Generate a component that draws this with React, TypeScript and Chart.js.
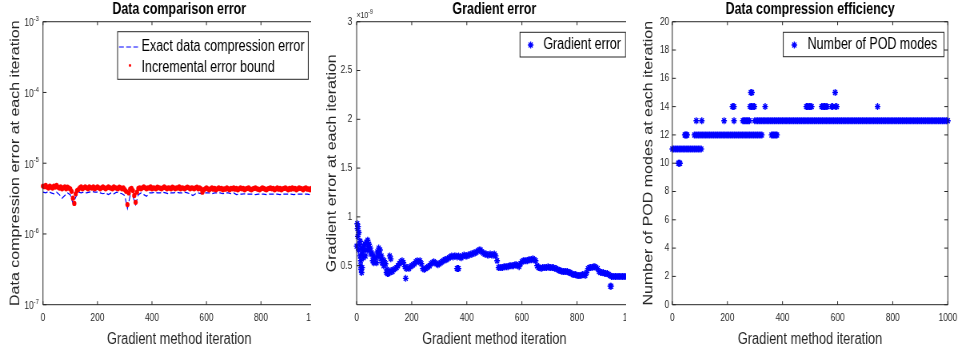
import React, { useEffect, useRef } from 'react';
import { Chart, registerables } from 'chart.js';

Chart.register(...registerables);

// ---------------- data ----------------
const X_TICKS = [0, 200, 400, 600, 800, 1000];

// Panel 1: data compression error (values in units of 1e-6)
const BOUND_STEP = 5; // iteration spacing of the bound samples
const BOUND_E6 = [
  4.75, 4.65, 4.85, 4.6, 4.45, 4.75, 4.6, 4.45, 4.75, 4.6, 4.85, 4.6, 4.45, 4.65, 4.35, 4.5, 4.65, 4.35, 4.6, 4.45, 4.35,
  4.0, 3.2, 2.7, 3.7, 4.1, 4.25, 4.5,
  4.65, 4.35, 4.5, 4.65, 4.5, 4.35, 4.65, 4.5, 4.45, 4.65, 4.35, 4.5, 4.65, 4.5, 4.35, 4.5, 4.65, 4.5, 4.35, 4.5, 4.65, 4.5, 4.45, 4.35, 4.65, 4.5, 4.45, 4.35, 4.6, 4.5, 4.35, 4.5, 4.25,
  4.0, 2.6, 3.8, 4.3, 4.4, 4.1, 3.5, 2.8, 3.9, 4.4,
  4.5, 4.35, 4.5, 4.65, 4.5, 4.35, 4.5, 4.45, 4.65, 4.35,
  4.5, 4.45, 4.35, 4.6, 4.5, 4.45, 4.35, 4.5, 4.65, 4.5,
  4.35, 4.5, 4.45, 4.35, 4.6, 4.5, 4.35, 4.5, 4.45, 4.65,
  4.35, 4.5, 4.45, 4.35, 4.5, 4.6, 4.5, 4.35, 4.5, 4.45,
  4.35, 4.5, 4.6, 4.35, 4.5, 4.35,
  3.9, 4.2,
  4.35, 4.5, 4.35, 4.2, 4.35, 4.5, 4.3, 4.4, 4.2, 4.35,
  4.5, 4.35, 4.4, 4.2, 4.35, 4.3, 4.5, 4.35, 4.2, 4.4,
  4.35, 4.5, 4.3, 4.4, 4.2, 4.35, 4.5, 4.35, 4.4, 4.2,
  4.35, 4.4, 4.5, 4.3, 4.2, 4.35, 4.4, 4.5, 4.35, 4.3,
  4.2, 4.35, 4.5, 4.4, 4.3, 4.2, 4.35, 4.4, 4.5, 4.35,
  4.4, 4.2, 4.35, 4.5, 4.3, 4.4, 4.2, 4.35, 4.4, 4.5,
  4.35, 4.2, 4.4, 4.3, 4.5, 4.35, 4.4, 4.2, 4.35, 4.5,
  4.4, 4.35, 4.2, 4.4, 4.5, 4.3, 4.35, 4.2, 4.4, 4.35,
  4.5, 4.35,
];
const EXACT_STEP = 10;
const EXACT_E6 = [
  3.9, 3.8, 4.0, 3.8, 3.7, 3.9, 3.6, 3.2, 3.5, 3.8,
  3.6, 2.7, 3.3, 3.9, 3.8, 3.9, 3.8, 3.9, 4.0, 3.9,
  3.9, 3.8, 3.7, 3.8, 3.6, 3.8, 3.7, 3.9, 3.8, 3.7,
  3.5, 2.3, 3.5, 3.4, 2.6, 3.6, 3.8, 3.6, 3.4, 3.8,
  3.8, 3.9, 3.8, 3.8, 3.9, 3.8, 3.7, 3.8, 3.8, 3.9,
  3.8, 3.8, 3.9, 3.8, 3.7, 3.5, 3.7, 3.8, 3.7, 3.8,
  3.8, 3.8, 3.7, 3.8, 3.8, 3.8, 3.7, 3.8, 3.8, 3.7,
  3.8, 3.6, 3.65, 3.65, 3.7, 3.65, 3.65, 3.65, 3.6, 3.65,
  3.65, 3.65, 3.6, 3.65, 3.65, 3.65, 3.65, 3.6, 3.65, 3.65,
  3.65, 3.65, 3.6, 3.65, 3.65, 3.65, 3.65, 3.65, 3.6, 3.65,
  3.65,
];
const LOG_TICKS = [1e-7, 1e-6, 1e-5, 1e-4, 1e-3];

// Panel 2: gradient error (values in units of 1e-9)
const GRAD_STEP = 5;
const GRAD_E9 = [
  0.70, 0.90, 0.72, 0.55, 0.62, 0.70, 0.72, 0.74, 0.76, 0.72,
  0.68, 0.63, 0.60, 0.57, 0.58, 0.64, 0.68, 0.66, 0.60, 0.56,
  0.55, 0.52, 0.46, 0.42, 0.43, 0.45, 0.44, 0.46, 0.47, 0.48,
  0.50, 0.52, 0.54, 0.55, 0.53, 0.49, 0.47, 0.48, 0.47, 0.49,
  0.50, 0.51, 0.52, 0.54, 0.55, 0.54, 0.55, 0.52, 0.47, 0.46,
  0.47, 0.48, 0.49, 0.50, 0.52, 0.53, 0.54, 0.53, 0.52, 0.51,
  0.52, 0.53, 0.54, 0.55, 0.56, 0.56, 0.57, 0.58, 0.59, 0.60,
  0.59, 0.60, 0.60, 0.59, 0.60, 0.59, 0.58, 0.60, 0.61, 0.60,
  0.60, 0.61, 0.61, 0.62, 0.62, 0.63, 0.63, 0.64, 0.65, 0.66,
  0.66, 0.64, 0.63, 0.62, 0.62, 0.61, 0.61, 0.62, 0.61, 0.61,
  0.62, 0.60, 0.55, 0.48, 0.48, 0.48, 0.48, 0.49, 0.49, 0.49,
  0.49, 0.50, 0.50, 0.50, 0.50, 0.51, 0.51, 0.50, 0.49, 0.52,
  0.54, 0.55, 0.55, 0.55, 0.55, 0.56, 0.56, 0.56, 0.57, 0.56,
  0.55, 0.50, 0.48, 0.48, 0.47, 0.48, 0.48, 0.48, 0.48, 0.49,
  0.48, 0.48, 0.48, 0.48, 0.47, 0.47, 0.46, 0.45, 0.45, 0.44,
  0.44, 0.44, 0.44, 0.44, 0.43, 0.43, 0.42, 0.41, 0.41, 0.41,
  0.40, 0.40, 0.40, 0.40, 0.41, 0.41, 0.40, 0.43, 0.47, 0.48,
  0.48, 0.48, 0.49, 0.49, 0.48, 0.47, 0.44, 0.43, 0.43, 0.43,
  0.42, 0.42, 0.42, 0.41, 0.40, 0.39, 0.39, 0.39, 0.39, 0.39,
  0.39, 0.39, 0.39, 0.39, 0.39, 0.39, 0.39, 0.39, 0.39, 0.39,
  0.39,
];
const GRAD_EXTRA_ITER = [2, 3, 4, 7, 8, 12, 13, 14, 16, 17, 18, 20, 22, 24, 28, 32, 38, 42, 48, 52, 58, 62, 72, 78, 82, 88, 92, 98, 108, 112, 120, 124, 178, 364, 367, 370, 921, 924];
const GRAD_EXTRA_E9 = [0.93, 0.88, 0.80, 0.66, 0.84, 0.60, 0.75, 0.50, 0.46, 0.68, 0.43, 0.48, 0.65, 0.58, 0.66, 0.60, 0.66, 0.70, 0.66, 0.62, 0.55, 0.53, 0.53, 0.60, 0.62, 0.57, 0.53, 0.50, 0.43, 0.42, 0.60, 0.57, 0.37, 0.47, 0.47, 0.47, 0.29, 0.29];
const GRAD_TICKS = [0.5, 1, 1.5, 2, 2.5, 3];

// Panel 3: iterations at which each number of POD modes occurs
const POD_10 = [22, 25, 28];
const POD_11 = [0, 5, 10, 15, 20, 25, 30, 35, 40, 45, 50, 55, 60, 65, 70, 75, 80, 85, 90, 95, 100, 105];
const POD_12 = [45, 48, 51, 54, 80, 85, 90, 95, 100, 105, 110, 115, 120, 125, 130, 135, 140, 145, 150, 155, 160, 165, 170, 175, 180, 185, 190, 195, 200, 205, 210, 215, 220, 225, 230, 235, 240, 245, 250, 255, 260, 265, 270, 275, 280, 285, 290, 295, 300, 305, 310, 315, 320, 325, 360, 364, 368, 372, 376, 380];
const POD_13 = [87, 107, 188, 224, 256, 260, 264, 268, 272, 276, 280, 299,
  305, 310, 315, 320, 325, 330, 335, 340, 345, 350, 355, 360, 365, 370, 375, 380, 385, 390, 395, 400, 405, 410, 415, 420, 425, 430, 435, 440, 445, 450, 455, 460, 465, 470, 475, 480, 485, 490, 495, 500,
  505, 510, 515, 520, 525, 530, 535, 540, 545, 550, 555, 560, 565, 570, 575, 580, 585, 590, 595, 600, 605, 610, 615, 620, 625, 630, 635, 640, 645, 650, 655, 660, 665, 670, 675, 680, 685, 690, 695, 700,
  705, 710, 715, 720, 725, 730, 735, 740, 745, 750, 755, 760, 765, 770, 775, 780, 785, 790, 795, 800, 805, 810, 815, 820, 825, 830, 835, 840, 845, 850, 855, 860, 865, 870, 875, 880, 885, 890, 895, 900,
  905, 910, 915, 920, 925, 930, 935, 940, 945, 950, 955, 960, 965, 970, 975, 980, 985, 990, 995, 1000];
const POD_14 = [218, 221, 224, 282, 286, 290, 294, 298, 337, 486, 490, 494, 498, 502, 506, 542, 546, 550, 554, 558, 562, 578, 582, 592, 597, 745];
const POD_15 = [285, 289, 591];
const POD_TICKS = [0, 2, 4, 6, 8, 10, 12, 14, 16, 18, 20];

// ---------------- styling ----------------
const SX = 0.8; // horizontal compression of the original figure
const FONT = "'Liberation Sans', Arial, Helvetica, sans-serif";
const AX = '#262626';
const H = 354;
const TICK_FS = 10.5;

const boxPlugin = {
  id: 'matBox',
  afterDatasetsDraw(chart: any) {
    const { ctx, chartArea: a, scales } = chart;
    const xs = scales.x;
    const ys = scales.y;
    ctx.save();
    ctx.strokeStyle = AX;
    ctx.lineWidth = 1;
    ctx.beginPath();
    ctx.moveTo(a.left, a.top);
    ctx.lineTo(a.left, a.bottom);
    ctx.lineTo(a.right, a.bottom);
    ctx.lineTo(a.right, a.top);
    ctx.closePath();
    xs.ticks.forEach((t: any) => {
      const p = xs.getPixelForValue(t.value);
      ctx.moveTo(p, a.bottom);
      ctx.lineTo(p, a.bottom - 3.5);
      ctx.moveTo(p, a.top);
      ctx.lineTo(p, a.top + 3.5);
    });
    ys.ticks.forEach((t: any) => {
      const p = ys.getPixelForValue(t.value);
      ctx.moveTo(a.left, p);
      ctx.lineTo(a.left + 4.4, p);
      ctx.moveTo(a.right, p);
      ctx.lineTo(a.right - 4.4, p);
    });
    ctx.stroke();
    ctx.restore();
  },
};

// y tick labels (MATLAB style, with raised exponents for the log axis)
const yLabelPlugin = {
  id: 'matYLabels',
  afterDraw(chart: any, _args: any, o: any) {
    if (!o || !o.kind) return;
    const { ctx, chartArea: a, scales } = chart;
    const ys = scales.y;
    ctx.save();
    ctx.fillStyle = AX;
    ctx.textBaseline = 'middle';
    ctx.textAlign = 'right';
    const xr = a.left - o.pad;
    ys.ticks.forEach((t: any) => {
      const p = ys.getPixelForValue(t.value);
      if (o.kind === 'log') {
        const e = String(Math.round(Math.log10(t.value)));
        ctx.font = `7.5px ${FONT}`;
        const ew = ctx.measureText(e).width;
        ctx.fillText(e, xr, p - 3);
        ctx.font = `${TICK_FS}px ${FONT}`;
        ctx.fillText('10', xr - ew, p + 1.5);
      } else {
        ctx.font = `${TICK_FS}px ${FONT}`;
        ctx.fillText(String(t.value), xr, p);
      }
    });
    ctx.restore();
  },
};

const drawStar = (ctx: CanvasRenderingContext2D, x: number, y: number, r: number) => {
  const d = r * Math.SQRT1_2;
  ctx.moveTo(x - r, y);
  ctx.lineTo(x + r, y);
  ctx.moveTo(x, y - r);
  ctx.lineTo(x, y + r);
  ctx.moveTo(x - d, y - d);
  ctx.lineTo(x + d, y + d);
  ctx.moveTo(x - d, y + d);
  ctx.lineTo(x + d, y - d);
};

const legendPlugin = {
  id: 'matLegend',
  afterDraw(chart: any, _args: any, o: any) {
    if (!o || !o.box) return;
    const ctx: CanvasRenderingContext2D = chart.ctx;
    const [bx, by, bw, bh] = o.box;
    ctx.save();
    ctx.fillStyle = '#ffffff';
    ctx.fillRect(bx, by, bw, bh);
    ctx.strokeStyle = AX;
    ctx.lineWidth = 1;
    ctx.strokeRect(bx, by, bw, bh);
    ctx.font = `${o.fontSize}px ${FONT}`;
    ctx.textBaseline = 'middle';
    ctx.textAlign = 'left';
    o.rows.forEach((r: any) => {
      const ds = chart.data.datasets[r.ds];
      if (r.kind === 'dash') {
        ctx.save();
        ctx.strokeStyle = ds.borderColor;
        ctx.lineWidth = 1;
        ctx.setLineDash(ds.borderDash || []);
        ctx.beginPath();
        ctx.moveTo(r.x0, r.y);
        ctx.lineTo(r.x1, r.y);
        ctx.stroke();
        ctx.restore();
      } else if (r.kind === 'dot') {
        ctx.fillStyle = ds.pointBackgroundColor;
        ctx.beginPath();
        ctx.arc(r.mx, r.my, 1.4, 0, Math.PI * 2);
        ctx.fill();
      } else if (r.kind === 'star') {
        ctx.strokeStyle = ds.pointBorderColor;
        ctx.lineWidth = 1.3;
        ctx.beginPath();
        drawStar(ctx, r.mx, r.y, 3.5);
        ctx.stroke();
      }
      ctx.fillStyle = '#000000';
      ctx.fillText(ds.label, o.textX, r.y);
    });
    ctx.restore();
  },
};

// "x10^-9" multiplier above the y axis
const notePlugin = {
  id: 'matNote',
  afterDraw(chart: any, _args: any, o: any) {
    if (!o || !o.base) return;
    const ctx: CanvasRenderingContext2D = chart.ctx;
    ctx.save();
    ctx.fillStyle = AX;
    ctx.textAlign = 'left';
    ctx.textBaseline = 'middle';
    ctx.font = `8.5px ${FONT}`;
    const x0 = chart.chartArea.left;
    ctx.fillText(o.base, x0, o.y);
    const w = ctx.measureText(o.base).width;
    ctx.font = `6.5px ${FONT}`;
    ctx.fillText(o.exp, x0 + w, o.y - 3);
    ctx.restore();
  },
};

const tickFont = { family: FONT, size: TICK_FS };

function baseOptions(p: any) {
  return {
    animation: false,
    responsive: false,
    maintainAspectRatio: false,
    layout: { padding: { left: 0, right: p.right, top: 0, bottom: 0 } },
    plugins: {
      legend: { display: false },
      tooltip: { enabled: false },
      title: {
        display: true,
        text: p.title,
        fullSize: false,
        color: '#000000',
        font: { family: FONT, size: 15.6, weight: 'bold', lineHeight: 1.2 },
        padding: { top: 0.5, bottom: 2.5 },
      },
      matLegend: p.legend,
      matNote: p.note || {},
      matYLabels: p.ylabels,
    },
    scales: {
      x: {
        type: 'linear',
        min: 0,
        max: 1000,
        afterFit: (s: any) => {
          s.height = 49.3;
        },
        afterBuildTicks: (s: any) => {
          s.ticks = X_TICKS.map((v) => ({ value: v }));
        },
        grid: { display: false, drawTicks: false, tickLength: 0 },
        border: { display: false },
        ticks: { autoSkip: false, maxRotation: 0, minRotation: 0, padding: 7, color: AX, font: tickFont, callback: (v: any) => String(v) },
        title: {
          display: true,
          text: 'Gradient method iteration',
          color: AX,
          font: { family: FONT, size: 16, lineHeight: 1.2 },
          padding: { top: 0, bottom: 4.4 },
        },
      },
      y: {
        ...p.y,
        afterFit: (s: any) => {
          s.width = p.yw;
        },
        grid: { display: false, drawTicks: false, tickLength: 0 },
        border: { display: false },
        ticks: { display: false },
        title: {
          display: true,
          text: p.ytitle,
          color: AX,
          font: { family: FONT, size: 16, lineHeight: 1.2 },
          padding: { top: p.ytitlePad, bottom: 0 },
        },
      },
    },
  };
}

function config1(): any {
  const exact = EXACT_E6.map((v, i) => ({ x: i * EXACT_STEP, y: v * 1e-6 }));
  const bound = BOUND_E6.map((v, i) => ({ x: i * BOUND_STEP, y: v * 1e-6 }));
  return {
    type: 'scatter',
    data: {
      datasets: [
        {
          label: 'Exact data compression error',
          data: exact,
          showLine: true,
          borderColor: '#0000FF',
          borderWidth: 1.2,
          borderDash: [6, 3],
          pointRadius: 0,
          order: 1,
          clip: false,
        },
        {
          label: 'Incremental error bound',
          data: bound,
          showLine: false,
          pointRadius: 2.6,
          pointBackgroundColor: '#FF0000',
          backgroundColor: '#FF0000',
          pointBorderWidth: 0,
          borderColor: '#FF0000',
          order: 0,
          clip: false,
        },
      ],
    },
    options: baseOptions({
      right: 15.5,
      yw: 53.75,
      title: 'Data comparison error',
      ytitle: 'Data compression error at each iteration',
      ytitlePad: 9.8,
      y: {
        type: 'logarithmic',
        min: 1e-7,
        max: 1e-3,
        afterBuildTicks: (s: any) => {
          s.ticks = LOG_TICKS.map((v) => ({ value: v }));
        },
      },
      ylabels: { kind: 'log', pad: 5 },
      legend: {
        box: [147, 31.7, 238.4, 47.6],
        textX: 177,
        fontSize: 15.6,
        rows: [
          { ds: 0, kind: 'dash', y: 47, x0: 148.8, x1: 172.5 },
          { ds: 1, kind: 'dot', y: 67.5, mx: 162.5, my: 65.5 },
        ],
      },
    }),
    plugins: [boxPlugin, yLabelPlugin, legendPlugin, notePlugin],
  };
}

const starDs = (label: string, data: any[]) => ({
  label,
  data,
  showLine: false,
  pointStyle: 'star',
  pointRadius: 3.5,
  pointBorderColor: '#0000FF',
  borderColor: '#0000FF',
  backgroundColor: '#0000FF',
  pointBorderWidth: 1.4,
  clip: false,
});

function config2(): any {
  const pts = GRAD_E9.map((v, i) => ({ x: i * GRAD_STEP, y: v })).concat(
    GRAD_EXTRA_ITER.map((it, i) => ({ x: it, y: GRAD_EXTRA_E9[i] }))
  );
  return {
    type: 'scatter',
    data: { datasets: [starDs('Gradient error', pts)] },
    options: baseOptions({
      right: 16,
      yw: 57.1,
      title: 'Gradient error',
      ytitle: 'Gradient error at each iteration',
      ytitlePad: 17.3,
      y: {
        type: 'linear',
        min: 0.1,
        max: 3,
        afterBuildTicks: (s: any) => {
          s.ticks = GRAD_TICKS.map((v) => ({ value: v }));
        },
      },
      ylabels: { kind: 'num', pad: 5.5 },
      legend: {
        box: [261.25, 32.3, 132, 24.7],
        textX: 290.4,
        fontSize: 15.6,
        rows: [{ ds: 0, kind: 'star', y: 45, mx: 274.6 }],
      },
      note: { base: '\u00D710', exp: '-9', y: 15.5 },
    }),
    plugins: [boxPlugin, yLabelPlugin, legendPlugin, notePlugin],
  };
}

function config3(): any {
  const lv = (arr: number[], m: number) => arr.map((it) => ({ x: it, y: m }));
  const pts = [
    ...lv(POD_10, 10),
    ...lv(POD_11, 11),
    ...lv(POD_12, 12),
    ...lv(POD_13, 13),
    ...lv(POD_14, 14),
    ...lv(POD_15, 15),
  ];
  return {
    type: 'scatter',
    data: { datasets: [starDs('Number of POD modes', pts)] },
    options: baseOptions({
      right: 13.1,
      yw: 57.9,
      title: 'Data compression efficiency',
      ytitle: 'Number of POD modes at each iteration',
      ytitlePad: 19.15,
      y: {
        type: 'linear',
        min: 0,
        max: 20,
        afterBuildTicks: (s: any) => {
          s.ticks = POD_TICKS.map((v) => ({ value: v }));
        },
      },
      ylabels: { kind: 'num', pad: 3.75 },
      legend: {
        box: [196.6, 32.3, 200.9, 24.4],
        textX: 227.1,
        fontSize: 15.6,
        rows: [{ ds: 0, kind: 'star', y: 45, mx: 210.4 }],
      },
    }),
    plugins: [boxPlugin, yLabelPlugin, legendPlugin, notePlugin],
  };
}

function Panel({ left, clipW, width, make }: { left: number; clipW: number; width: number; make: () => any }) {
  const ref = useRef<HTMLCanvasElement>(null);
  useEffect(() => {
    const chart = new Chart(ref.current as HTMLCanvasElement, make());
    return () => chart.destroy();
  }, []);
  return (
    <div style={{ position: 'absolute', left, top: 0, width: clipW, height: H, overflow: 'hidden' }}>
      <canvas
        ref={ref}
        width={width}
        height={H}
        style={{ display: 'block', width: width + 'px', height: H + 'px', transform: `scaleX(${SX})`, transformOrigin: '0 0' }}
      />
    </div>
  );
}

export default function App() {
  return (
    <div style={{ position: 'absolute', left: 0, top: 0, width: 963, height: H, background: '#ffffff', overflow: 'hidden' }}>
      <Panel left={0} clipW={311} width={413} make={config1} />
      <Panel left={311} clipW={315} width={420} make={config2} />
      <Panel left={626} clipW={337} width={421} make={config3} />
    </div>
  );
}
